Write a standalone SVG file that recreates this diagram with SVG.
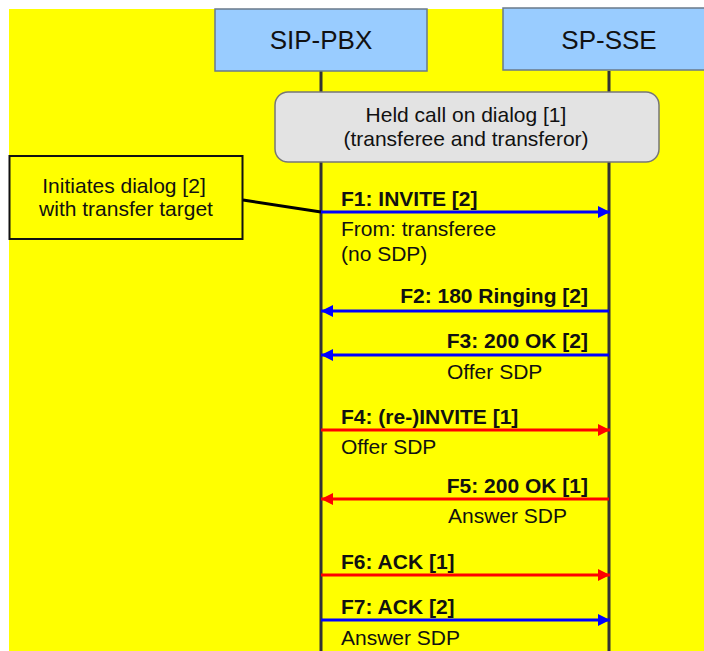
<svg xmlns="http://www.w3.org/2000/svg" width="704" height="651" viewBox="0 0 704 651">
<style>
text{font-family:"Liberation Sans",Arial,sans-serif;fill:#111}
.hdr{font-size:26px;text-anchor:middle}
.t{font-size:21px}
.b{font-size:21px;font-weight:bold}
.c{text-anchor:middle}
.e{text-anchor:end}
.life{stroke:#333;stroke-width:3}
.blue{stroke:#0000ff;stroke-width:3;fill:none}
.red{stroke:#ff0000;stroke-width:3;fill:none}
</style>
<defs>
<marker id="ab" markerWidth="12" markerHeight="12" refX="12" refY="6" orient="auto" markerUnits="userSpaceOnUse"><path d="M0,0 L12,6 L0,12 Z" fill="#0000ff"/></marker>
<marker id="ar" markerWidth="12" markerHeight="12" refX="12" refY="6" orient="auto" markerUnits="userSpaceOnUse"><path d="M0,0 L12,6 L0,12 Z" fill="#ff0000"/></marker>
</defs>
<rect x="0" y="0" width="704" height="651" fill="#ffffff"/>
<rect x="9" y="9" width="695" height="642" fill="#ffff00"/>
<g id="lifelines">
<line class="life" x1="321" y1="71" x2="321" y2="651"/>
<line class="life" x1="609" y1="71" x2="609" y2="651"/>
</g>
<g id="sip-pbx">
<rect x="215" y="9" width="212" height="62" fill="#99ccff" stroke="#6a7a8a" stroke-width="1.5"/>
<text class="hdr" x="321" y="49">SIP-PBX</text>
</g>
<g id="sp-sse">
<rect x="503" y="8" width="212" height="62" fill="#99ccff" stroke="#6a7a8a" stroke-width="1.5"/>
<text class="hdr" x="609" y="49">SP-SSE</text>
</g>
<g id="held">
<rect x="275" y="92" width="384" height="70" rx="13" ry="13" fill="#e3e3e3" stroke="#777" stroke-width="1.5"/>
<text class="t c" x="466" y="122">Held call on dialog [1]</text>
<text class="t c" x="466" y="146">(transferee and transferor)</text>
</g>
<g id="note">
<rect x="9.5" y="156" width="233" height="83" fill="#ffff00" stroke="#111" stroke-width="2"/>
<text class="t c" x="124" y="193">Initiates dialog [2]</text>
<text class="t c" x="126" y="216">with transfer target</text>
</g>
<g id="connectors">
<line x1="243" y1="200" x2="321" y2="212" stroke="#000" stroke-width="3"/>
<line class="blue" x1="321" y1="212" x2="610" y2="212" marker-end="url(#ab)"/>
<line class="blue" x1="609" y1="311" x2="321" y2="311" marker-end="url(#ab)"/>
<line class="blue" x1="609" y1="355" x2="321" y2="355" marker-end="url(#ab)"/>
<line class="red" x1="321" y1="430" x2="610" y2="430" marker-end="url(#ar)"/>
<line class="red" x1="609" y1="499" x2="321" y2="499" marker-end="url(#ar)"/>
<line class="red" x1="321" y1="575" x2="610" y2="575" marker-end="url(#ar)"/>
<line class="blue" x1="321" y1="620" x2="610" y2="620" marker-end="url(#ab)"/>
</g>
<g id="labels">
<text class="b" x="341" y="206">F1: INVITE [2]</text>
<text class="t" x="341" y="236">From: transferee</text>
<text class="t" x="341" y="261">(no SDP)</text>
<text class="b e" x="588" y="303">F2: 180 Ringing [2]</text>
<text class="b e" x="588" y="348">F3: 200 OK [2]</text>
<text class="t" x="447" y="379">Offer SDP</text>
<text class="b" x="341" y="424">F4: (re-)INVITE [1]</text>
<text class="t" x="341" y="454">Offer SDP</text>
<text class="b e" x="588" y="493">F5: 200 OK [1]</text>
<text class="t" x="448" y="523">Answer SDP</text>
<text class="b" x="341" y="569">F6: ACK [1]</text>
<text class="b" x="341" y="614">F7: ACK [2]</text>
<text class="t" x="341" y="645">Answer SDP</text>
</g>
</svg>
